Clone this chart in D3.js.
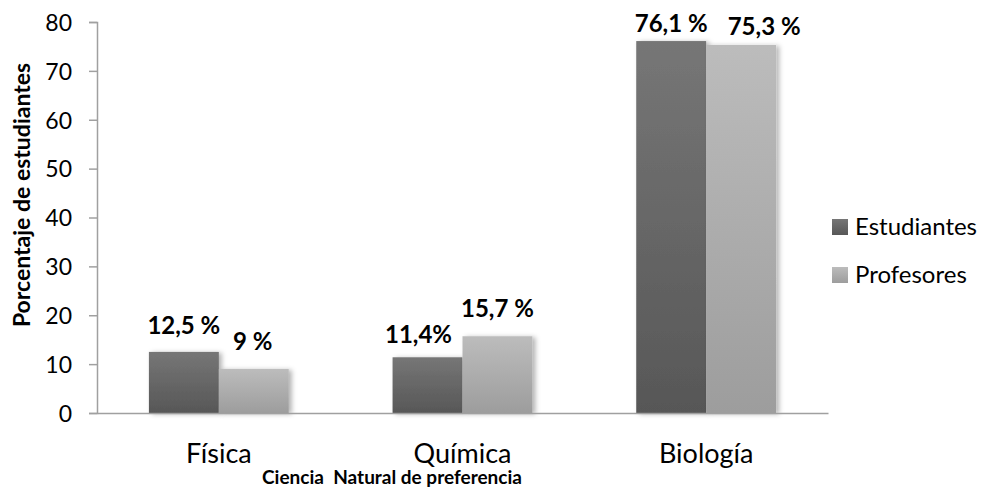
<!DOCTYPE html>
<html>
<head>
<meta charset="utf-8">
<script src="https://cdn.jsdelivr.net/npm/d3@7"></script>
<style>
  body { margin: 0; background: #fff; }
  svg, svg text { font-family: Lato, "Open Sans", sans-serif; }
</style>
</head>
<body>
<div id="chart"></div>
<script>
// data
var categories = ["Física", "Química", "Biología"];
var series = ["Estudiantes", "Profesores"];
var estudiantes = [12.5, 11.4, 76.1];
var profesores = [9, 15.7, 75.3];
var estudiantesLabels = ["12,5 %", "11,4%", "76,1 %"];
var profesoresLabels = ["9 %", "15,7 %", "75,3 %"];
var yTicks = [0, 10, 20, 30, 40, 50, 60, 70, 80];

// hand-placed label nudges (dx, dy from the top centre of each bar), as in the original
var estudiantesNudge = [[0, -18], [-9, -14], [0, -9]];
var profesoresNudge = [[-1, -19], [0, -19], [23, -10]];

var margin = {top: 22, right: 153, bottom: 75, left: 97},
    width = 981 - margin.left - margin.right,
    height = 488 - margin.top - margin.bottom;

var svg = d3.select("#chart")
  .append("svg")
    .attr("width", 981)
    .attr("height", 488);

var defs = svg.append("defs");
var colors = {
  "Estudiantes": ["#767676", "#575757"],
  "Profesores": ["#bcbcbc", "#9d9d9d"]
};
series.forEach(function(s, i) {
  var g = defs.append("linearGradient")
    .attr("id", "grad" + i)
    .attr("x1", 0).attr("y1", 0).attr("x2", 0).attr("y2", 1);
  g.append("stop").attr("offset", "0%").attr("stop-color", colors[s][0]);
  g.append("stop").attr("offset", "100%").attr("stop-color", colors[s][1]);
});
var shadow = defs.append("filter").attr("id", "shadow")
  .attr("x", "-20%").attr("y", "-20%").attr("width", "150%").attr("height", "140%");
shadow.append("feDropShadow")
  .attr("dx", 3).attr("dy", 1).attr("stdDeviation", 2.5)
  .attr("flood-color", "#000").attr("flood-opacity", 0.3);

var chart = svg.append("g")
  .attr("transform", "translate(" + margin.left + "," + margin.top + ")");

// scales
var x0 = d3.scaleBand()
  .domain(categories)
  .range([0, width]);

var x1 = d3.scaleBand()
  .domain(series)
  .range([x0.bandwidth() * 0.213, x0.bandwidth() * 0.787]);

var y = d3.scaleLinear()
  .domain([0, 80])
  .range([height, 0]);

// bars
var rows = categories.map(function(c, i) {
  return {
    cat: c,
    vals: [
      {s: series[0], v: estudiantes[i], label: estudiantesLabels[i], n: estudiantesNudge[i], k: 0},
      {s: series[1], v: profesores[i], label: profesoresLabels[i], n: profesoresNudge[i], k: 1}
    ]
  };
});

var groups = chart.selectAll(".grp")
  .data(rows)
  .enter()
  .append("g")
    .attr("class", "grp")
    .attr("transform", function(d) { return "translate(" + x0(d.cat) + ",0)"; });

groups.selectAll("rect")
  .data(function(d) { return d.vals; })
  .enter()
  .append("rect")
    .attr("x", function(d) { return x1(d.s); })
    .attr("y", function(d) { return y(d.v); })
    .attr("width", x1.bandwidth())
    .attr("height", function(d) { return height - y(d.v); })
    .attr("fill", function(d) { return "url(#grad" + d.k + ")"; })
    .attr("filter", "url(#shadow)");

groups.selectAll(".lbl")
  .data(function(d) { return d.vals; })
  .enter()
  .append("text")
    .attr("class", "lbl")
    .attr("x", function(d) { return x1(d.s) + x1.bandwidth() / 2 + d.n[0]; })
    .attr("y", function(d) { return y(d.v) + d.n[1]; })
    .attr("text-anchor", "middle")
    .style("font-size", "24px")
    .style("font-weight", "bold")
    .style("fill", "#000")
    .text(function(d) { return d.label; });

// y axis
var yAxis = chart.append("g")
  .call(d3.axisLeft(y).tickValues(yTicks).tickSize(8).tickPadding(17));
yAxis.selectAll("text").style("font-size", "23px").style("fill", "#000")
  .attr("dy", "0.36em");
yAxis.selectAll("line, path").attr("stroke", "#a0a0a0").attr("stroke-width", 1.5);

// x axis
var xAxis = chart.append("g")
  .attr("transform", "translate(0," + height + ")")
  .call(d3.axisBottom(x0).tickSize(0).tickPadding(31));
xAxis.selectAll("text").style("font-size", "27px").style("fill", "#000");
xAxis.select("path").attr("stroke", "#a0a0a0").attr("stroke-width", 1.5);

// axis titles
svg.append("text")
  .attr("transform", "translate(30,195) rotate(-90)")
  .attr("text-anchor", "middle")
  .style("font-size", "23px")
  .style("font-weight", "bold")
  .text("Porcentaje de estudiantes");

svg.append("text")
  .attr("x", 392)
  .attr("y", 484)
  .attr("text-anchor", "middle")
  .style("font-size", "19px")
  .style("font-weight", "bold")
  .text("Ciencia\u00a0 Natural de preferencia");

// legend
var legend = svg.append("g")
  .attr("transform", "translate(832,219)");
var li = legend.selectAll("g")
  .data(series)
  .enter()
  .append("g")
    .attr("transform", function(d, i) { return "translate(0," + (i * 48) + ")"; });
li.append("rect")
  .attr("width", 16).attr("height", 16)
  .attr("fill", function(d, i) { return "url(#grad" + i + ")"; });
li.append("text")
  .attr("x", 23)
  .attr("y", 16)
  .style("font-size", "24px")
  .text(function(d) { return d; });
</script>
</body>
</html>
